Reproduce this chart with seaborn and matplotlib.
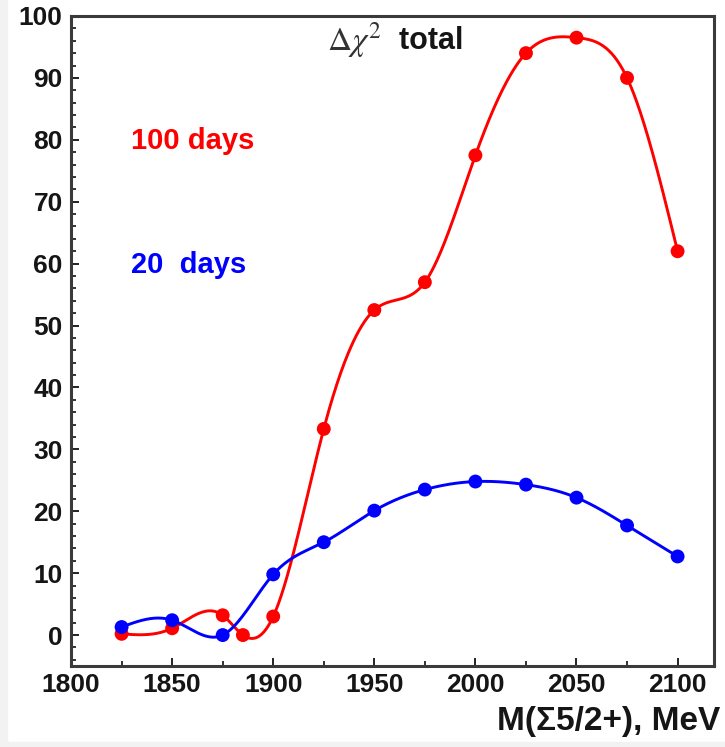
import numpy as np
import pandas as pd
import matplotlib
matplotlib.use("Agg")
import matplotlib.pyplot as plt
import seaborn as sns
from matplotlib.ticker import MultipleLocator
from matplotlib.patches import Rectangle

# Mass scan points (MeV) and total delta-chi^2 for both exposures
mass_100 = [1825, 1850, 1875, 1885, 1900, 1925, 1950, 1975, 2000, 2025, 2050, 2075, 2100]
chi2_100 = [0.2, 1.1, 3.2, 0.0, 3.0, 33.3, 52.5, 57.0, 77.5, 94.0, 96.5, 90.0, 62.0]

mass_20 = [1825, 1850, 1875, 1900, 1925, 1950, 1975, 2000, 2025, 2050, 2075, 2100]
chi2_20 = [1.3, 2.4, 0.0, 9.8, 15.0, 20.1, 23.5, 24.8, 24.3, 22.2, 17.7, 12.7]

x_ticks = [1800, 1850, 1900, 1950, 2000, 2050, 2100]
y_ticks = [0, 10, 20, 30, 40, 50, 60, 70, 80, 90, 100]


def natural_spline(x, y, n=600):
    """Natural cubic spline through (x, y), sampled on a fine grid."""
    x = np.asarray(x, float)
    y = np.asarray(y, float)
    k = len(x)
    h = np.diff(x)
    A = np.zeros((k, k))
    b = np.zeros(k)
    A[0, 0] = A[-1, -1] = 1.0
    for i in range(1, k - 1):
        A[i, i - 1] = h[i - 1]
        A[i, i] = 2 * (h[i - 1] + h[i])
        A[i, i + 1] = h[i]
        b[i] = 6 * ((y[i + 1] - y[i]) / h[i] - (y[i] - y[i - 1]) / h[i - 1])
    m = np.linalg.solve(A, b)
    xs = np.linspace(x[0], x[-1], n)
    idx = np.clip(np.searchsorted(x, xs) - 1, 0, k - 2)
    x0, x1 = x[idx], x[idx + 1]
    hh = x1 - x0
    t0, t1 = x1 - xs, xs - x0
    ys = (m[idx] * t0 ** 3 / (6 * hh) + m[idx + 1] * t1 ** 3 / (6 * hh)
          + (y[idx] / hh - m[idx] * hh / 6) * t0
          + (y[idx + 1] / hh - m[idx + 1] * hh / 6) * t1)
    return xs, ys


sns.set_theme(style="white")
plt.rcParams["font.family"] = ["Liberation Sans", "DejaVu Sans"]
plt.rcParams["mathtext.fontset"] = "stix"

fig = plt.figure(figsize=(7.25, 7.47), dpi=100)

# faint grey page margin on the left and bottom
fig.patches.append(Rectangle((0, 0), 0.009, 1, transform=fig.transFigure,
                             color="#f2f2f2", zorder=0))
fig.patches.append(Rectangle((0, 0), 1, 0.007, transform=fig.transFigure,
                             color="#f2f2f2", zorder=0))

ax = fig.add_axes([0.098, 0.1084, 0.8868, 0.8702])

RED = "#ff0000"
BLUE = "#0000ff"

for xs_, ys_, col in [(mass_100, chi2_100, RED), (mass_20, chi2_20, BLUE)]:
    sx, sy = natural_spline(xs_, ys_)
    curve = pd.DataFrame({"m": sx, "chi2": sy})
    pts = pd.DataFrame({"m": xs_, "chi2": ys_})
    sns.lineplot(data=curve, x="m", y="chi2", color=col, lw=2.1, ax=ax,
                 estimator=None, sort=False)
    sns.scatterplot(data=pts, x="m", y="chi2", color=col, s=100,
                    edgecolor="none", ax=ax, zorder=5)

ax.set_xlim(1800, 2118)
ax.set_ylim(-5, 100)
ax.set_xticks(x_ticks)
ax.set_yticks(y_ticks)
ax.xaxis.set_minor_locator(MultipleLocator(25))
ax.yaxis.set_minor_locator(MultipleLocator(2))
ax.tick_params(axis="both", which="major", direction="in", length=6,
               width=1.4, color="#222222", labelsize=19,
               top=False, right=False, bottom=True, left=True)
ax.tick_params(axis="x", which="major", pad=5)
ax.tick_params(axis="y", which="major", pad=6)
ax.tick_params(axis="both", which="minor", direction="in", length=3.3,
               width=1.3, color="#222222", top=False, right=False,
               bottom=True, left=True)
for lab in ax.get_xticklabels() + ax.get_yticklabels():
    lab.set_fontweight("bold")
    lab.set_color("#151515")

for sp in ax.spines.values():
    sp.set_visible(True)
    sp.set_color("#3a3a3a")
    sp.set_linewidth(2.2)

ax.set_xlabel("")
ax.set_ylabel("")
fig.text(0.993, 0.013, "M(\u03a35/2+), MeV", ha="right", va="bottom",
         fontsize=24, fontweight="bold", color="#151515")

ax.text(0.483, 0.962, r"$\Delta\chi^{2}$", transform=ax.transAxes,
        ha="right", va="center", fontsize=24, color="#333333")
ax.text(0.483, 0.962, "  total", transform=ax.transAxes,
        ha="left", va="center", fontsize=22, fontweight="bold", color="#151515")
ax.text(1829.5, 79.8, "100 days", color=RED, fontsize=21, fontweight="bold",
        ha="left", va="center")
ax.text(1829.5, 59.7, "20  days", color=BLUE, fontsize=21, fontweight="bold",
        ha="left", va="center")

fig.savefig("out.png", dpi=100)
